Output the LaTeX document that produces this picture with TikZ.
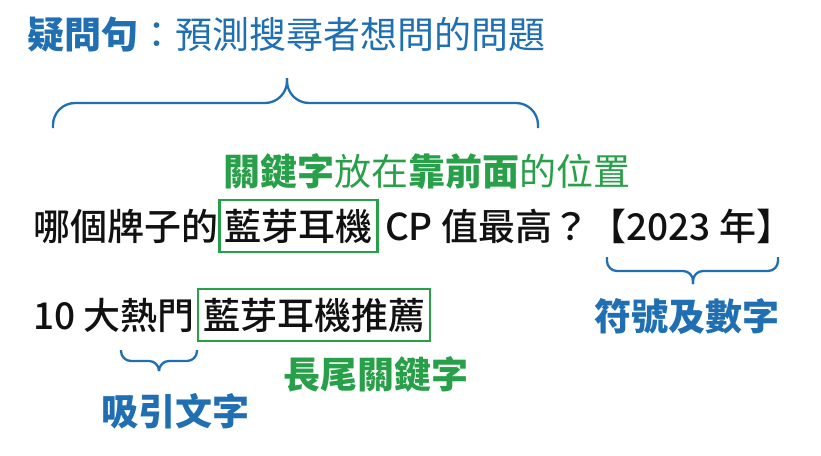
\documentclass[tikz,border=0pt]{standalone}
\usepackage{fontspec}
\setmainfont{Noto Sans CJK TC}
\newfontfamily\midfont{Noto Sans CJK TC Medium}
\usetikzlibrary{positioning}
\usepackage{xcolor}
\definecolor{qblue}{HTML}{1F6FB2}
\definecolor{kgreen}{HTML}{28A049}
\definecolor{ink}{HTML}{111111}
\tikzset{
  txt/.style={inner sep=0pt, font=\fontsize{37}{40}\selectfont},
  bluetxt/.style={txt, text=qblue},
  greentxt/.style={txt, text=kgreen},
  linetxt/.style={inner sep=0pt, font=\fontsize{37}{40}\midfont, text=ink},
  keybox/.style={linetxt, draw=kgreen, line width=2.4pt, inner xsep=5pt, inner ysep=9pt},
  bigbrace/.style={draw=qblue, line width=2.3pt, rounded corners=22pt},
  smallbrace/.style={draw=qblue, line width=2.3pt, rounded corners=10pt}
}

\begin{document}
\begin{tikzpicture}[x=1pt, y=-1pt]
  \useasboundingbox (0,0) rectangle (821,455);
  \node[bluetxt, anchor=base west] (ask) at (27,48) {\bfseries 疑問句\mdseries ：預測搜尋者想問的問題};
  \node[greentxt, anchor=base] (tip) at (427,185) {\bfseries 關鍵字\mdseries 放在\bfseries 靠前面\mdseries 的位置};
  \node[linetxt, anchor=base west] (q1) at (33,240) {哪個牌子的};
  \node[keybox, base right=0pt of q1] (kw1) {藍芽耳機};
  \node[linetxt, base right=6pt of kw1] (q2) {CP 值最高？};
  \node[linetxt, base right=0pt of q2] (yr) {【2023 年】};
  \node[bluetxt, anchor=base] (sym) at (687,330) {\bfseries 符號及數字};
  \node[linetxt, anchor=base west] (hot) at (33,329) {10 大熱門};
  \node[keybox, base right=2pt of hot] (kw2) {藍芽耳機推薦};
  \node[greentxt, anchor=base] (longtail) at (376,388) {\bfseries 長尾關鍵字};
  \node[bluetxt, anchor=base] (lure) at (175,425) {\bfseries 吸引文字};
  % braces as rounded polylines meeting in a cusp
  \draw[bigbrace] (53,128) -- (53,103) -- (287,103) -- (287,78);
  \draw[bigbrace] (538,128) -- (538,103) -- (287,103) -- (287,78);
  \draw[smallbrace] (607,257) -- (607,271) -- (693,271) -- (693,284);
  \draw[smallbrace] (778,257) -- (778,271) -- (693,271) -- (693,284);
  \draw[smallbrace] (121,350) -- (121,361) -- (159,361) -- (159,370);
  \draw[smallbrace] (197,350) -- (197,361) -- (159,361) -- (159,370);
\end{tikzpicture}
\end{document}
